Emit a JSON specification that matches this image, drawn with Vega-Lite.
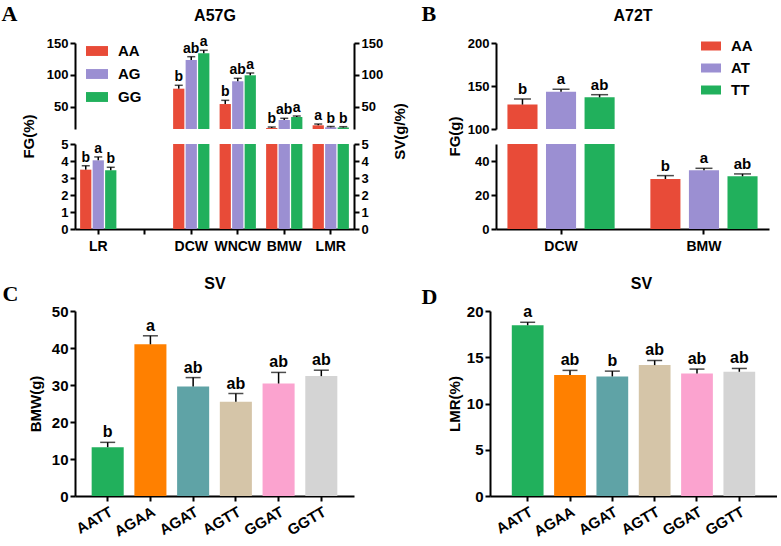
{
  "$schema": "https://vega.github.io/schema/vega-lite/v6.json",
  "padding": {"left": 1, "top": 2, "right": 0, "bottom": 0},
  "config": {
    "view": {"stroke": null},
    "font": "Liberation Sans",
    "axis": {"domainColor": "black", "domainWidth": 2, "tickColor": "black", "tickWidth": 2, "tickSize": 5, "labelFont": "Liberation Sans", "labelFontSize": 13, "labelFontWeight": "bold", "labelColor": "black", "labelPadding": 2, "titleFont": "Liberation Sans", "titleFontSize": 15, "titleFontWeight": "bold", "titleColor": "black", "grid": false}
  },
  "datasets": {
    "a57g": [
      {"trait": "LR", "geno": "AA", "value": 3.49, "hi": 3.72, "sig": "b"},
      {"trait": "LR", "geno": "AG", "value": 4.04, "hi": 4.24, "sig": "a"},
      {"trait": "LR", "geno": "GG", "value": 3.45, "hi": 3.63, "sig": "b"},
      {"trait": "DCW", "geno": "AA", "value": 78.3, "hi": 83.6, "sig": "b"},
      {"trait": "DCW", "geno": "AG", "value": 123.3, "hi": 128.5, "sig": "ab"},
      {"trait": "DCW", "geno": "GG", "value": 133.8, "hi": 138.5, "sig": "a"},
      {"trait": "WNCW", "geno": "AA", "value": 54.2, "hi": 60.0, "sig": "b"},
      {"trait": "WNCW", "geno": "AG", "value": 89.9, "hi": 94.6, "sig": "ab"},
      {"trait": "WNCW", "geno": "GG", "value": 99.3, "hi": 102.9, "sig": "a"},
      {"trait": "BMW", "geno": "AA", "value": 16.6, "hi": 18.1, "sig": "b"},
      {"trait": "BMW", "geno": "AG", "value": 29.1, "hi": 31.8, "sig": "ab"},
      {"trait": "BMW", "geno": "GG", "value": 33.8, "hi": 35.4, "sig": "a"},
      {"trait": "LMR", "geno": "AA", "value": 20.8, "hi": 22.8, "sig": "a"},
      {"trait": "LMR", "geno": "AG", "value": 17.7, "hi": 18.9, "sig": "b"},
      {"trait": "LMR", "geno": "GG", "value": 17.4, "hi": 18.6, "sig": "b"}
    ],
    "a72t": [
      {"trait": "DCW", "geno": "AA", "value": 128.4, "hi": 134.8, "sig": "b"},
      {"trait": "DCW", "geno": "AT", "value": 143.3, "hi": 146.3, "sig": "a"},
      {"trait": "DCW", "geno": "TT", "value": 136.8, "hi": 139.9, "sig": "ab"},
      {"trait": "BMW", "geno": "AA", "value": 29.4, "hi": 31.4, "sig": "b"},
      {"trait": "BMW", "geno": "AT", "value": 34.5, "hi": 35.7, "sig": "a"},
      {"trait": "BMW", "geno": "TT", "value": 31.0, "hi": 32.4, "sig": "ab"}
    ],
    "bmw": [
      {"hap": "AATT", "value": 13.2, "hi": 14.5, "sig": "b"},
      {"hap": "AGAA", "value": 41.0, "hi": 43.3, "sig": "a"},
      {"hap": "AGAT", "value": 29.6, "hi": 32.0, "sig": "ab"},
      {"hap": "AGTT", "value": 25.5, "hi": 27.7, "sig": "ab"},
      {"hap": "GGAT", "value": 30.4, "hi": 33.4, "sig": "ab"},
      {"hap": "GGTT", "value": 32.4, "hi": 34.0, "sig": "ab"}
    ],
    "lmr": [
      {"hap": "AATT", "value": 18.46, "hi": 18.78, "sig": "a"},
      {"hap": "AGAA", "value": 13.07, "hi": 13.58, "sig": "ab"},
      {"hap": "AGAT", "value": 12.93, "hi": 13.5, "sig": "b"},
      {"hap": "AGTT", "value": 14.15, "hi": 14.65, "sig": "ab"},
      {"hap": "GGAT", "value": 13.25, "hi": 13.72, "sig": "ab"},
      {"hap": "GGTT", "value": 13.43, "hi": 13.79, "sig": "ab"}
    ]
  },
  "spacing": 22,
  "resolve": {"scale": {"color": "independent", "xOffset": "independent"}, "legend": {"color": "independent"}},
  "vconcat": [
    {
      "hconcat": [
        {
          "spacing": 15,
          "bounds": "flush",
          "resolve": {"scale": {"color": "independent"}, "legend": {"color": "independent"}},
          "vconcat": [
            {
              "width": 279, "height": 86,
              "data": {"name": "a57g"},
              "transform": [{"filter": "datum.trait != 'LR'"}],
              "resolve": {"scale": {"y": "independent"}},
              "layer": [
                {
                  "encoding": {
                    "x": {"field": "trait", "type": "nominal", "scale": {"domain": ["LR", " ", "DCW", "WNCW", "BMW", "LMR"], "paddingInner": 0.22, "paddingOuter": 0.11}, "axis": {"orient": "top", "labels": false, "ticks": false, "domain": false, "title": "A57G", "titleY": -23, "titleBaseline": "alphabetic", "titleFontSize": 16}},
                    "xOffset": {"field": "geno", "type": "nominal", "scale": {"domain": ["AA", "AG", "GG"], "paddingInner": 0.1}},
                    "y": {"field": "value", "type": "quantitative", "scale": {"domain": [15, 150], "zero": false}, "axis": {"values": [50, 100, 150], "title": "A", "titleAngle": 0, "titleX": -74, "titleY": -23, "titleAlign": "left", "titleBaseline": "alphabetic", "titleFont": "Liberation Serif", "titleFontSize": 22}}
                  },
                  "layer": [
                    {"mark": {"type": "bar", "clip": true},
                     "encoding": {"color": {"field": "geno", "type": "nominal", "scale": {"domain": ["AA", "AG", "GG"], "range": ["#E84B38", "#9B8FD2", "#21B05C"]},
                       "legend": {"orient": "none", "legendX": 11, "legendY": -3, "title": null, "padding": 0, "symbolType": "M-1,-0.45H1V0.45H-1Z", "symbolSize": 484, "symbolStrokeWidth": 0, "labelFont": "Liberation Sans", "labelFontSize": 15, "labelFontWeight": "bold", "labelColor": "black", "labelOffset": 10, "rowPadding": 4}}}},
                    {"mark": {"type": "rule", "color": "black", "strokeWidth": 1.5}, "encoding": {"y2": {"field": "hi"}}},
                    {"mark": {"type": "tick", "color": "black", "thickness": 1.5, "size": 8, "orient": "horizontal"}, "encoding": {"y": {"field": "hi", "type": "quantitative"}}},
                    {"mark": {"type": "text", "baseline": "bottom", "dy": -1, "font": "Liberation Sans", "fontSize": 14, "fontWeight": "bold", "color": "black"}, "encoding": {"y": {"field": "hi", "type": "quantitative"}, "text": {"field": "sig"}}}
                  ]
                },
                {"mark": {"type": "point", "opacity": 0, "clip": true},
                 "encoding": {"y": {"field": "value", "type": "quantitative", "scale": {"domain": [15, 150], "zero": false}, "axis": {"orient": "right", "values": [50, 100, 150], "title": null}}}}
              ]
            },
            {
              "width": 279, "height": 85,
              "data": {"name": "a57g"},
              "resolve": {"scale": {"y": "independent"}},
              "layer": [
                {
                  "encoding": {
                    "x": {"field": "trait", "type": "nominal", "scale": {"domain": ["LR", " ", "DCW", "WNCW", "BMW", "LMR"], "paddingInner": 0.22, "paddingOuter": 0.11}, "axis": {"title": null, "labelAngle": 0, "labelPadding": 5, "labelFontSize": 14}},
                    "xOffset": {"field": "geno", "type": "nominal", "scale": {"domain": ["AA", "AG", "GG"], "paddingInner": 0.1}},
                    "y": {"field": "value", "type": "quantitative", "scale": {"domain": [0, 5]}, "axis": {"values": [0, 1, 2, 3, 4, 5], "title": "FG(%)", "titleX": -47, "titleY": -8, "titleBaseline": "middle"}}
                  },
                  "layer": [
                    {"mark": {"type": "bar", "clip": true},
                     "encoding": {"color": {"field": "geno", "type": "nominal", "scale": {"domain": ["AA", "AG", "GG"], "range": ["#E84B38", "#9B8FD2", "#21B05C"]}, "legend": null}}},
                    {"transform": [{"filter": "datum.trait == 'LR'"}], "mark": {"type": "rule", "color": "black", "strokeWidth": 1.5}, "encoding": {"y2": {"field": "hi"}}},
                    {"transform": [{"filter": "datum.trait == 'LR'"}], "mark": {"type": "tick", "color": "black", "thickness": 1.5, "size": 8, "orient": "horizontal"}, "encoding": {"y": {"field": "hi", "type": "quantitative"}}},
                    {"transform": [{"filter": "datum.trait == 'LR'"}], "mark": {"type": "text", "baseline": "bottom", "dy": -1, "font": "Liberation Sans", "fontSize": 14, "fontWeight": "bold", "color": "black"}, "encoding": {"y": {"field": "hi", "type": "quantitative"}, "text": {"field": "sig"}}}
                  ]
                },
                {"transform": [{"filter": "datum.trait == 'LR'"}], "mark": {"type": "point", "opacity": 0, "clip": true},
                 "encoding": {"y": {"field": "value", "type": "quantitative", "scale": {"domain": [0, 5]}, "axis": {"orient": "right", "values": [0, 1, 2, 3, 4, 5], "title": "SV(g/%)", "titleAngle": 270, "titleX": 45, "titleY": -13, "titleBaseline": "middle"}}}}
              ]
            }
          ]
        },
        {
          "spacing": 15,
          "bounds": "flush",
          "resolve": {"scale": {"color": "independent"}, "legend": {"color": "independent"}},
          "vconcat": [
            {
              "width": 273, "height": 86,
              "data": {"name": "a72t"},
              "transform": [{"filter": "datum.trait == 'DCW'"}],
              "encoding": {
                "x": {"field": "trait", "type": "nominal", "scale": {"domain": ["DCW", "BMW"], "paddingInner": 0.25, "paddingOuter": 0.08}, "axis": {"orient": "top", "labels": false, "ticks": false, "domain": false, "title": "A72T", "titleY": -23, "titleBaseline": "alphabetic", "titleFontSize": 16}},
                "xOffset": {"field": "geno", "type": "nominal", "scale": {"domain": ["AA", "AT", "TT"], "paddingInner": 0.22}},
                "y": {"field": "value", "type": "quantitative", "scale": {"domain": [100, 200], "zero": false}, "axis": {"values": [100, 150, 200], "title": "B", "titleAngle": 0, "titleX": -75, "titleY": -23, "titleAlign": "left", "titleBaseline": "alphabetic", "titleFont": "Liberation Serif", "titleFontSize": 22}}
              },
              "layer": [
                {"mark": {"type": "bar", "clip": true},
                 "encoding": {"color": {"field": "geno", "type": "nominal", "scale": {"domain": ["AA", "AT", "TT"], "range": ["#E84B38", "#9B8FD2", "#21B05C"]},
                   "legend": {"orient": "none", "legendX": 205, "legendY": -7, "title": null, "padding": 0, "symbolType": "M-1,-0.45H1V0.45H-1Z", "symbolSize": 400, "symbolStrokeWidth": 0, "labelFont": "Liberation Sans", "labelFontSize": 15, "labelFontWeight": "bold", "labelColor": "black", "labelOffset": 10, "rowPadding": 4}}}},
                {"mark": {"type": "rule", "color": "black", "strokeWidth": 1.5}, "encoding": {"y2": {"field": "hi"}}},
                {"mark": {"type": "tick", "color": "black", "thickness": 1.5, "size": 17, "orient": "horizontal"}, "encoding": {"y": {"field": "hi", "type": "quantitative"}}},
                {"mark": {"type": "text", "baseline": "bottom", "dy": -2, "font": "Liberation Sans", "fontSize": 15, "fontWeight": "bold", "color": "black"}, "encoding": {"y": {"field": "hi", "type": "quantitative"}, "text": {"field": "sig"}}}
              ]
            },
            {
              "width": 273, "height": 85,
              "data": {"name": "a72t"},
              "encoding": {
                "x": {"field": "trait", "type": "nominal", "scale": {"domain": ["DCW", "BMW"], "paddingInner": 0.25, "paddingOuter": 0.08}, "axis": {"title": null, "labelAngle": 0, "labelPadding": 5, "labelFontSize": 14}},
                "xOffset": {"field": "geno", "type": "nominal", "scale": {"domain": ["AA", "AT", "TT"], "paddingInner": 0.22}},
                "y": {"field": "value", "type": "quantitative", "scale": {"domain": [0, 50]}, "axis": {"values": [0, 20, 40], "title": "FG(g)", "titleX": -42, "titleY": -8, "titleBaseline": "middle"}}
              },
              "layer": [
                {"mark": {"type": "bar", "clip": true},
                 "encoding": {"color": {"field": "geno", "type": "nominal", "scale": {"domain": ["AA", "AT", "TT"], "range": ["#E84B38", "#9B8FD2", "#21B05C"]}, "legend": null}}},
                {"transform": [{"filter": "datum.trait == 'BMW'"}], "mark": {"type": "rule", "color": "black", "strokeWidth": 1.5}, "encoding": {"y2": {"field": "hi"}}},
                {"transform": [{"filter": "datum.trait == 'BMW'"}], "mark": {"type": "tick", "color": "black", "thickness": 1.5, "size": 17, "orient": "horizontal"}, "encoding": {"y": {"field": "hi", "type": "quantitative"}}},
                {"transform": [{"filter": "datum.trait == 'BMW'"}], "mark": {"type": "text", "baseline": "bottom", "dy": -2, "font": "Liberation Sans", "fontSize": 15, "fontWeight": "bold", "color": "black"}, "encoding": {"y": {"field": "hi", "type": "quantitative"}, "text": {"field": "sig"}}}
              ]
            }
          ]
        }
      ],
      "spacing": 14,
      "resolve": {"scale": {"color": "independent", "xOffset": "independent"}, "legend": {"color": "independent"}}
    },
    {
      "hconcat": [
        {
          "width": 279, "height": 185,
          "data": {"name": "bmw"},
          "resolve": {"scale": {"x": "independent", "y": "independent"}},
          "layer": [
            {
              "encoding": {
                "x": {"field": "hap", "type": "nominal", "scale": {"domain": ["AATT", "AGAA", "AGAT", "AGTT", "GGAT", "GGTT"], "paddingInner": 0.25, "paddingOuter": 0.39}, "axis": {"title": null, "labelAngle": -30, "labelFontSize": 15, "labelPadding": 3}},
                "y": {"field": "value", "type": "quantitative", "scale": {"domain": [0, 50]}, "axis": {"values": [0, 10, 20, 30, 40, 50], "title": "BMW(g)", "labelFontSize": 15, "titlePadding": 8}}
              },
              "layer": [
                {"mark": {"type": "bar"},
                 "encoding": {"color": {"field": "hap", "type": "nominal", "scale": {"domain": ["AATT", "AGAA", "AGAT", "AGTT", "GGAT", "GGTT"], "range": ["#21B05C", "#FF8000", "#5FA3A6", "#D5C5A8", "#FBA3CF", "#D4D4D4"]}, "legend": null}}},
                {"mark": {"type": "rule", "color": "black", "strokeWidth": 1.5}, "encoding": {"y2": {"field": "hi"}}},
                {"mark": {"type": "tick", "color": "black", "thickness": 1.5, "size": 15, "orient": "horizontal"}, "encoding": {"y": {"field": "hi", "type": "quantitative"}}},
                {"mark": {"type": "text", "baseline": "bottom", "dy": -2, "font": "Liberation Sans", "fontSize": 16, "fontWeight": "bold", "color": "black"}, "encoding": {"y": {"field": "hi", "type": "quantitative"}, "text": {"field": "sig"}}}
              ]
            },
            {"mark": {"type": "point", "opacity": 0, "clip": true},
             "encoding": {
               "x": {"field": "hap", "type": "nominal", "axis": {"orient": "top", "labels": false, "ticks": false, "domain": false, "title": "SV", "titleY": -23, "titleBaseline": "alphabetic", "titleFontSize": 16}},
               "y": {"field": "value", "type": "quantitative", "scale": {"domain": [0, 50]}, "axis": {"orient": "right", "labels": false, "ticks": false, "domain": false, "title": "C", "titleAngle": 0, "titleX": -352, "titleY": -11, "titleAlign": "left", "titleBaseline": "alphabetic", "titleFont": "Liberation Serif", "titleFontSize": 22}}
             }}
          ]
        },
        {
          "width": 287, "height": 185,
          "data": {"name": "lmr"},
          "resolve": {"scale": {"x": "independent", "y": "independent"}},
          "layer": [
            {
              "encoding": {
                "x": {"field": "hap", "type": "nominal", "scale": {"domain": ["AATT", "AGAA", "AGAT", "AGTT", "GGAT", "GGTT"], "paddingInner": 0.25, "paddingOuter": 0.515}, "axis": {"title": null, "labelAngle": -30, "labelFontSize": 15, "labelPadding": 3}},
                "y": {"field": "value", "type": "quantitative", "scale": {"domain": [0, 20]}, "axis": {"values": [0, 5, 10, 15, 20], "title": "LMR(%)", "labelFontSize": 15, "titlePadding": 4}}
              },
              "layer": [
                {"mark": {"type": "bar"},
                 "encoding": {"color": {"field": "hap", "type": "nominal", "scale": {"domain": ["AATT", "AGAA", "AGAT", "AGTT", "GGAT", "GGTT"], "range": ["#21B05C", "#FF8000", "#5FA3A6", "#D5C5A8", "#FBA3CF", "#D4D4D4"]}, "legend": null}}},
                {"mark": {"type": "rule", "color": "black", "strokeWidth": 1.5}, "encoding": {"y2": {"field": "hi"}}},
                {"mark": {"type": "tick", "color": "black", "thickness": 1.5, "size": 15, "orient": "horizontal"}, "encoding": {"y": {"field": "hi", "type": "quantitative"}}},
                {"mark": {"type": "text", "baseline": "bottom", "dy": -2, "font": "Liberation Sans", "fontSize": 16, "fontWeight": "bold", "color": "black"}, "encoding": {"y": {"field": "hi", "type": "quantitative"}, "text": {"field": "sig"}}}
              ]
            },
            {"mark": {"type": "point", "opacity": 0, "clip": true},
             "encoding": {
               "x": {"field": "hap", "type": "nominal", "axis": {"orient": "top", "labels": false, "ticks": false, "domain": false, "title": "SV", "titleX": 151, "titleY": -23, "titleBaseline": "alphabetic", "titleFontSize": 16}},
               "y": {"field": "value", "type": "quantitative", "scale": {"domain": [0, 20]}, "axis": {"orient": "right", "labels": false, "ticks": false, "domain": false, "title": "D", "titleAngle": 0, "titleX": -356, "titleY": -8, "titleAlign": "left", "titleBaseline": "alphabetic", "titleFont": "Liberation Serif", "titleFontSize": 22}}
             }}
          ]
        }
      ],
      "spacing": 67,
      "resolve": {"scale": {"color": "independent", "xOffset": "independent"}, "legend": {"color": "independent"}}
    }
  ]
}
